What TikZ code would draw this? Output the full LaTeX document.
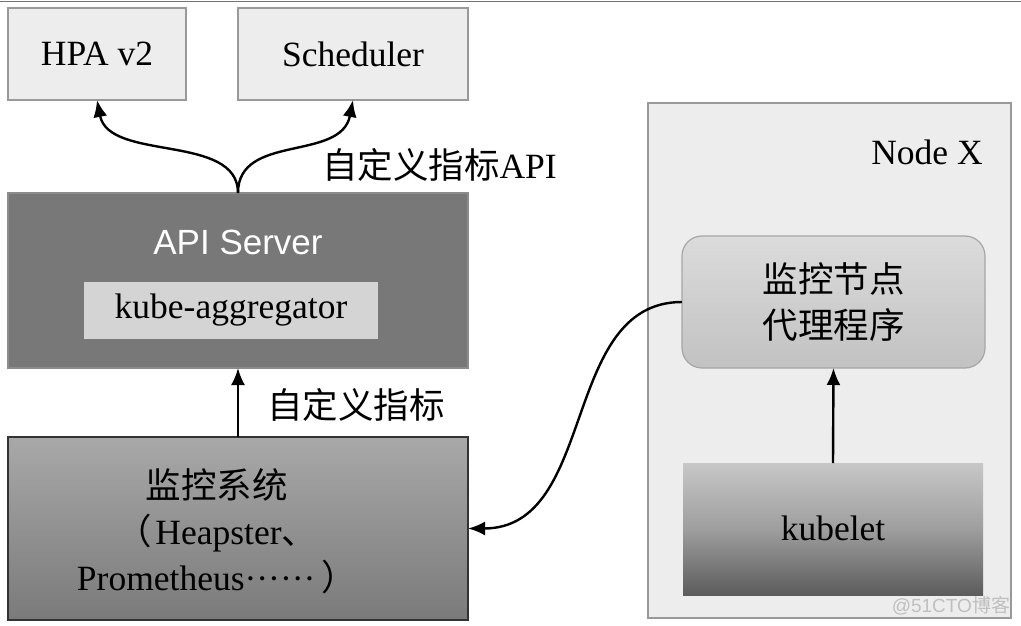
\documentclass[tikz,border=0pt]{standalone}
\usepackage{fontspec}
\setmainfont{Liberation Serif}
\newfontfamily\cjk{Noto Sans CJK SC}
\newfontfamily\sansf{Liberation Sans}
\usetikzlibrary{arrows.meta}
\begin{document}
\begin{tikzpicture}[x=1pt,y=-1pt,
  every node/.style={inner sep=0pt,outer sep=0pt},
  big/.style={font=\fontsize{35.5}{46}\selectfont},
  lightbox/.style={draw=black!40,fill=black!7,line width=1.3pt},
  arr/.style={line width=2.4pt,-{Latex[length=17pt,width=14pt]}},
]
\useasboundingbox[fill=white] (0,0) rectangle (1021,626);
\draw[black!55,line width=1pt] (0,2) -- (1021,2);

% top boxes
\node[lightbox,minimum width=178pt,minimum height=92pt,big] (hpa) at (97,54) {HPA v2};
\node[lightbox,minimum width=230pt,minimum height=92pt,big] (sched) at (353,54) {Scheduler};

% API server
\node[draw=black!45,fill=black!53,line width=1.2pt,minimum width=460pt,minimum height=175pt] (api) at (238,280.5) {};
\node[text=white,font=\fontsize{35}{45}\sansf] (apilabel) at (238,242) {API Server};
\node[fill=black!17,minimum width=294pt,minimum height=57pt,big] (agg) at (231,310.5) {kube-aggregator};

% monitoring system
\node[draw=black!80,line width=1.5pt,top color=black!34,bottom color=black!52,minimum width=460pt,minimum height=183pt] (mon) at (238,528.5) {};
\node[big,align=center] (montext) at (217,531) {{\cjk 监控系统}\\{\cjk （}\hspace{3pt}Heapster{\cjk 、}\\Prometheus······\hspace{6pt}{\cjk ）}};

% labels
\node[big,anchor=west] (lblapi) at (322,165) {{\cjk 自定义指标}API};
\node[big,anchor=west] (lblm) at (267,405) {\cjk 自定义指标};

% Node X
\node[draw=black!40,fill=black!7,line width=1.5pt,minimum width=363pt,minimum height=515pt] (nodex) at (829.5,360.5) {};
\node[big] (nodexlbl) at (927,152) {Node X};
\node[draw=black!35,line width=1.2pt,rounded corners=20pt,top color=black!14,bottom color=black!24,minimum width=303pt,minimum height=132pt,big,align=center] (agent) at (833.5,302) {\cjk 监控节点\\\cjk 代理程序};
\node[top color=black!22,bottom color=black!64,middle color=black!38,minimum width=300pt,minimum height=132pt] (kubelet) at (833,529) {};
\node[big] (kubeletlbl) at (833,528) {kubelet};

\node[anchor=east,text=black!25,font=\fontsize{19}{22}\sansf] (wm) at (1010,606) {@51CTO{\cjk 博客}};

% connectors
\draw[arr] (api.north) .. controls +(0,-60) and +(12,62) .. (hpa.south);
\draw[arr] (api.north) .. controls +(0,-60) and +(-12,62) .. (sched.south);
\draw[arr] (mon.north) -- (api.south);
\draw[arr] (kubelet.north) -- (agent.south);
\draw[arr] (agent.west) .. controls +(-122,0) and +(130,0) .. (mon.east);
\end{tikzpicture}
\end{document}
